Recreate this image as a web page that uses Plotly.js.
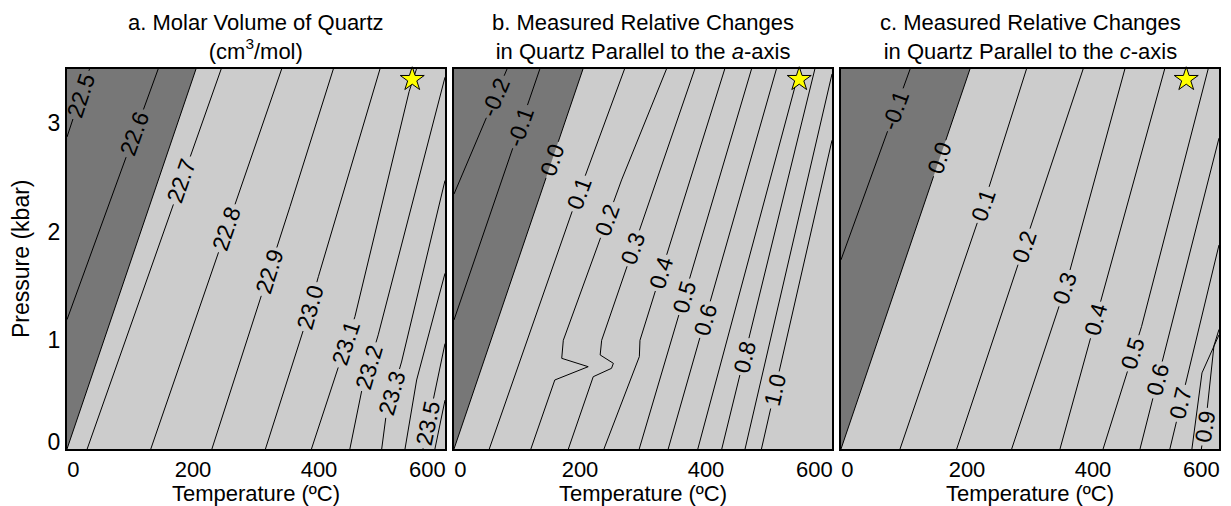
<!DOCTYPE html>
<html>
<head>
<meta charset="utf-8">
<script src="https://cdn.plot.ly/plotly-3.0.1.min.js"></script>
<style>
html,body{margin:0;padding:0;background:#ffffff;}
#chart{width:1231px;height:506px;}
</style>
</head>
<body>
<div id="chart"></div>
<script>
// ---------------- DATA ----------------
const tempRange = [0, 600];          // Temperature (ºC)
const presRange = [0, 3.5];          // Pressure (kbar)
const xTickVals = [10, 200, 400, 572];
const xTickText = ['0', '200', '400', '600'];
const yTickVals = [0.067, 1, 2, 3];
const yTickText = ['0', '1', '2', '3'];
const starT = 548;
const starP = 3.4;

// Panel a: molar volume of quartz (cm3/mol)
const aLevels = [22.5, 22.6, 22.688, 22.7, 22.8, 22.9, 23.0, 23.1, 23.2, 23.3, 23.4, 23.5, 23.6];
const aLineT = [[0, 36], [0, 145], [0, 205], [32, 245], [133, 341], [230, 354, 423],
  [315, 372, 399, 497], [388, 457, 543, 555], [449, 465, 494, 600], [499.5, 507, 531, 600],
  [536.5, 555, 600], [565, 600], [584, 600]];
const aLineP = [[2.87, 3.5], [1.19, 3.5], [0, 3.5], [0, 3.5], [0, 3.5], [0, 2.23, 3.5],
  [0, 1.03, 1.585, 3.5], [0, 1.217, 3.287, 3.5], [0, 0.48, 1.05, 3.42], [0, 0.33, 0.80, 2.47],
  [0, 0.635, 1.616], [0, 0.97], [0, 0.45]];
const aLabelLevels = [22.5, 22.6, 22.7, 22.8, 22.9, 23.0, 23.1, 23.2, 23.3, 23.5];
const aLabelP = [3.257, 2.904, 2.47, 2.03, 1.631, 1.31, 0.972, 0.757, 0.512, 0.236];
const aShadeLevel = 22.688;

// Panel b: relative changes parallel to the a-axis
const bLevels = [-0.2, -0.1, 0.0, 0.1, 0.2, 0.3, 0.4, 0.5, 0.6, 0.7, 0.8, 0.9, 1.0];
const bLineT = [[0, 84.5], [0, 136.5], [0, 205], [56, 105, 189, 271],
  [122, 160, 213, 171, 173.5, 266, 337.6], [181.5, 221, 250, 253, 232, 234.4, 382.5],
  [238, 286.7, 294.2, 295.2, 430], [294, 472.5], [340, 512], [387, 549], [425, 573],
  [462, 600], [488, 600]];
const bLineP = [[2.345, 3.5], [1.187, 3.5], [0, 3.5], [0, 0.82, 2.21, 3.5],
  [0, 0.635, 0.757, 0.834, 1.0, 2.475, 3.5], [0, 0.665, 0.742, 0.788, 0.865, 1.0, 3.5],
  [0, 0.727, 0.85, 1.0, 3.5], [0, 3.5], [0, 3.5], [0, 3.5], [0, 3.5],
  [0, 3.45], [0, 2.84]];
const bLabelLevels = [-0.2, -0.1, 0.0, 0.1, 0.2, 0.3, 0.4, 0.5, 0.6, 0.8, 1.0];
const bLabelP = [3.24, 2.965, 2.66, 2.35, 2.107, 1.846, 1.62, 1.40, 1.19, 0.85, 0.543];
const bShadeLevel = 0.0;

// Panel c: relative changes parallel to the c-axis
const cLevels = [-0.1, 0.0, 0.1, 0.2, 0.3, 0.4, 0.5, 0.6, 0.7, 0.8, 0.9];
const cLineT = [[0, 110], [0, 205], [93.7, 226, 294.7], [183.6, 384.6], [270.9, 355.6, 450.8],
  [347.6, 514], [416, 477, 583], [474.6, 600], [522, 600], [557, 573, 600], [572, 580, 592, 600]];
const cLineP = [[1.74, 3.5], [0, 3.5], [0, 2.245, 3.5], [0, 3.5], [0, 1.478, 3.5],
  [0, 3.5], [0, 1.125, 3.5], [0, 2.86], [0, 1.877], [0, 0.7, 1.05], [0, 0.3, 0.95, 1.1]];
const cLabelLevels = [-0.1, 0.0, 0.1, 0.2, 0.3, 0.4, 0.5, 0.6, 0.7, 0.9];
const cLabelP = [3.12, 2.674, 2.245, 1.861, 1.478, 1.187, 0.88, 0.635, 0.42, 0.205];
const cShadeLevel = 0.0;

const titles = [
  'a. Molar Volume of Quartz<br>(cm<sup>3</sup>/mol)',
  'b. Measured Relative Changes<br>in Quartz Parallel to the <i>a</i>-axis',
  'c. Measured Relative Changes<br>in Quartz Parallel to the <i>c</i>-axis'
];
const xTitle = 'Temperature (ºC)';
const yTitle = 'Pressure (kbar)';

// ---------------- LAYOUT CONSTANTS ----------------
const FONT = 'Liberation Sans, Arial, Helvetica, sans-serif';
const FIG_W = 1231, FIG_H = 506;
const PANEL_LEFT = [67, 454, 841];
const PLOT_W = 378, PLOT_TOP = 68.5, PLOT_BOTTOM = 449;
const PLOT_H = PLOT_BOTTOM - PLOT_TOP;
const LIGHT = '#cccccc', DARK = '#777777';
const LABEL_SIZE = 23, TEXT_SIZE = 23, XTEXT_SIZE = 22, TITLE_SIZE = 22;
const pxPerT = PLOT_W / (tempRange[1] - tempRange[0]);
const pxPerP = PLOT_H / (presRange[1] - presRange[0]);

const panels = [
  {levels: aLevels, lineT: aLineT, lineP: aLineP, labLev: aLabelLevels, labP: aLabelP, shade: aShadeLevel},
  {levels: bLevels, lineT: bLineT, lineP: bLineP, labLev: bLabelLevels, labP: bLabelP, shade: bShadeLevel},
  {levels: cLevels, lineT: cLineT, lineP: cLineP, labLev: cLabelLevels, labP: cLabelP, shade: cShadeLevel}
];

const ctx = document.createElement('canvas').getContext('2d');
ctx.font = LABEL_SIZE + 'px "Liberation Sans", Arial, sans-serif';
function textWidth(s) { return ctx.measureText(s).width; }

// position (T) and direction of a polyline at pressure p
function locate(Ts, Ps, p) {
  for (let k = 0; k < Ps.length - 1; k++) {
    const p0 = Ps[k], p1 = Ps[k + 1];
    if ((p >= p0 && p <= p1) || (p <= p0 && p >= p1)) {
      const f = (p1 === p0) ? 0 : (p - p0) / (p1 - p0);
      return {T: Ts[k] + f * (Ts[k + 1] - Ts[k]), dT: Ts[k + 1] - Ts[k], dP: p1 - p0};
    }
  }
  const n = Ps.length - 1;
  return {T: Ts[n], dT: Ts[n] - Ts[n - 1], dP: Ps[n] - Ps[n - 1]};
}

// remove the part of a polyline (pixel space) inside a circle around a label
function cutPolyline(xs, ys, cx, cy, g) {
  const ox = [], oy = [];
  const ins = (x, y) => (x - cx) * (x - cx) + (y - cy) * (y - cy) < g * g;
  if (!ins(xs[0], ys[0])) { ox.push(xs[0]); oy.push(ys[0]); }
  for (let i = 1; i < xs.length; i++) {
    const ax = xs[i - 1], ay = ys[i - 1], bx = xs[i], by = ys[i];
    if (ax === null || bx === null) { ox.push(bx); oy.push(by); continue; }
    const dx = bx - ax, dy = by - ay, fx = ax - cx, fy = ay - cy;
    const a = dx * dx + dy * dy, b = 2 * (fx * dx + fy * dy), c = fx * fx + fy * fy - g * g;
    const disc = b * b - 4 * a * c;
    if (disc > 0 && a > 0) {
      const sq = Math.sqrt(disc);
      [(-b - sq) / (2 * a), (-b + sq) / (2 * a)].forEach(t => {
        if (t > 0 && t < 1) {
          ox.push(ax + t * dx); oy.push(ay + t * dy);
          if (2 * a * t + b < 0) { ox.push(null); oy.push(null); }
        }
      });
    }
    if (!ins(bx, by)) { ox.push(bx); oy.push(by); }
  }
  return [ox, oy];
}

const traces = [];
const annotations = [];

panels.forEach((pn, i) => {
  const sfx = i === 0 ? '' : String(i + 1);
  const xa = 'x' + sfx, ya = 'y' + sfx;
  const si = pn.levels.indexOf(pn.shade);

  // dark region (values below the surface-condition contour)
  traces.push({
    type: 'scatter', mode: 'lines', xaxis: xa, yaxis: ya,
    x: pn.lineT[si].concat([tempRange[0]]),
    y: pn.lineP[si].concat([presRange[1]]),
    fill: 'toself', fillcolor: DARK, line: {width: 0, color: DARK},
    hoverinfo: 'skip', showlegend: false
  });

  // contour lines with gaps for labels
  const allX = [], allY = [];
  pn.levels.forEach((lev, k) => {
    let xs = pn.lineT[k].map(t => t * pxPerT);
    let ys = pn.lineP[k].map(p => p * pxPerP);
    pn.labLev.forEach((ll, j) => {
      if (ll !== lev) return;
      const loc = locate(pn.lineT[k], pn.lineP[k], pn.labP[j]);
      const txt = lev.toFixed(1);
      const g = textWidth(txt) / 2 + 3;
      const r = cutPolyline(xs, ys, loc.T * pxPerT, pn.labP[j] * pxPerP, g);
      xs = r[0]; ys = r[1];
      const ang = Math.atan2(loc.dP * pxPerP, loc.dT * pxPerT) * 180 / Math.PI;
      annotations.push({
        xref: xa, yref: ya, x: loc.T, y: pn.labP[j], text: txt,
        textangle: -ang, showarrow: false, borderpad: 0,
        font: {family: FONT, size: LABEL_SIZE, color: '#000000'}
      });
    });
    xs.forEach((x, m) => {
      allX.push(x === null ? null : x / pxPerT);
      allY.push(ys[m] === null ? null : ys[m] / pxPerP);
    });
    allX.push(null); allY.push(null);
  });
  traces.push({
    type: 'scatter', mode: 'lines', xaxis: xa, yaxis: ya, x: allX, y: allY,
    line: {color: '#000000', width: 1}, connectgaps: false,
    hoverinfo: 'skip', showlegend: false
  });

  // star
  traces.push({
    type: 'scatter', mode: 'markers', xaxis: xa, yaxis: ya, x: [starT], y: [starP],
    marker: {symbol: 'star', size: 18, color: '#ffff00', line: {color: '#000000', width: 1}},
    cliponaxis: false, hoverinfo: 'skip', showlegend: false
  });

  // panel title (two lines)
  const cx = (PANEL_LEFT[i] + PLOT_W / 2) / FIG_W;
  annotations.push({xref: 'paper', yref: 'paper', x: cx, y: 1 - 36.5 / FIG_H, xanchor: 'center', yanchor: 'middle',
    text: titles[i], showarrow: false, font: {family: FONT, size: TITLE_SIZE, color: '#000000'}});
});

const layout = {
  width: FIG_W, height: FIG_H,
  margin: {l: 0, r: 0, t: 0, b: 0},
  paper_bgcolor: '#ffffff', plot_bgcolor: LIGHT,
  showlegend: false, annotations: annotations,
  font: {family: FONT, size: TEXT_SIZE, color: '#000000'}
};

[0, 1, 2].forEach(i => {
  const sfx = i === 0 ? '' : String(i + 1);
  layout['xaxis' + sfx] = {
    domain: [PANEL_LEFT[i] / FIG_W, (PANEL_LEFT[i] + PLOT_W) / FIG_W],
    range: tempRange, anchor: 'y' + sfx,
    showgrid: false, zeroline: false, showline: true, mirror: true,
    linecolor: '#000000', linewidth: 2, ticks: '',
    tickmode: 'array', tickvals: xTickVals, ticktext: xTickText,
    tickfont: {family: FONT, size: XTEXT_SIZE, color: '#000000'},
    title: {text: xTitle, font: {family: FONT, size: XTEXT_SIZE, color: '#000000'}, standoff: 4},
    fixedrange: true
  };
  const ya = {
    domain: [1 - PLOT_BOTTOM / FIG_H, 1 - PLOT_TOP / FIG_H],
    range: presRange, anchor: 'x' + sfx,
    showgrid: false, zeroline: false, showline: true, mirror: true,
    linecolor: '#000000', linewidth: 2, ticks: '',
    tickmode: 'array', tickvals: yTickVals, ticktext: yTickText,
    showticklabels: i === 0,
    tickfont: {family: FONT, size: TEXT_SIZE, color: '#000000'},
    fixedrange: true
  };
  if (i === 0) ya.title = {text: yTitle, font: {family: FONT, size: TEXT_SIZE, color: '#000000'}, standoff: 12};
  layout['yaxis' + sfx] = ya;
});

Plotly.newPlot('chart', traces, layout, {displayModeBar: false, staticPlot: true});
</script>
</body>
</html>
